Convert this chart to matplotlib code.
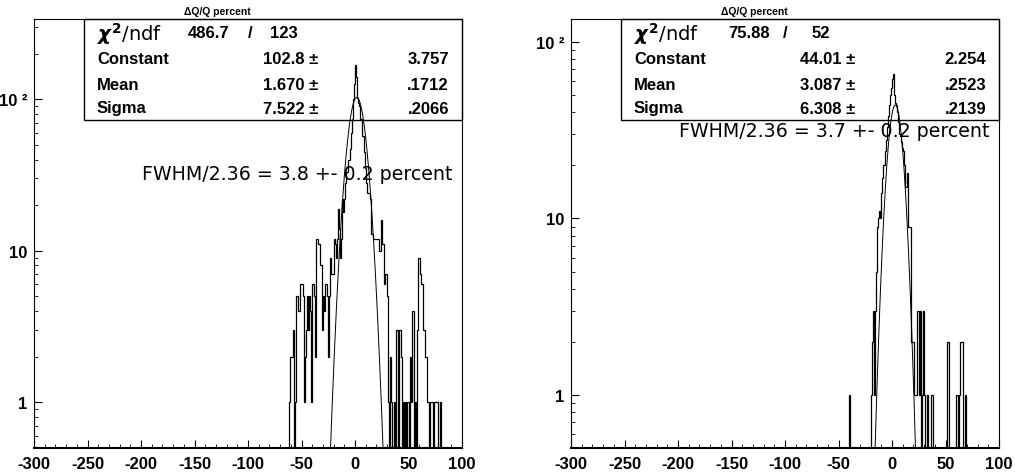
## Delta Q / Q histograms with gaussian fits (two panels)

import numpy as np
import matplotlib
matplotlib.use('Agg')
import matplotlib.pyplot as plt
from matplotlib.patches import Rectangle
from matplotlib.ticker import MultipleLocator, LogLocator, FixedLocator, FixedFormatter, NullFormatter

plt.rcParams['font.family'] = ['Liberation Sans', 'DejaVu Sans']
plt.rcParams['font.weight'] = 'bold'
plt.rcParams['axes.unicode_minus'] = False

## Data
# left panel: counts in 1-unit bins, first bin starts at -62
left_start = -62
left_counts = [1, 2, 2, 2, 3, 0, 1, 5, 5, 4,          # -62 .. -53
               4, 6, 6, 5, 1, 2, 3, 5, 3, 5,          # -52 .. -43
               4, 1, 6, 6, 5, 2, 12, 11, 11, 8,       # -42 .. -33
               8, 3, 5, 4, 6, 6, 5, 2, 5, 9,          # -32 .. -23
               7, 7, 12, 11, 9, 12, 19, 14, 9, 12,    # -22 .. -13
               22, 18, 22, 28, 33, 40, 40, 47, 60, 74,  # -12 .. -3
               100, 125, 167, 140, 102, 95, 90, 74, 74, 57,  # -2 .. 7
               45, 35, 28, 24, 24, 24, 22, 13, 13, 12,  # 8 .. 17
               12, 12, 12, 12, 10, 10, 16, 11, 11, 6,   # 18 .. 27
               7, 7, 5, 1, 0, 2, 1, 0, 1, 0,            # 28 .. 37
               3, 3, 0, 3, 3, 2, 0, 1, 0, 1,            # 38 .. 47
               0, 1, 0, 2, 1, 4, 4, 0, 1, 0,            # 48 .. 57
               3, 9, 9, 7, 6, 6, 3, 2, 2, 1,            # 58 .. 67
               1, 0, 1, 1, 1, 0, 1, 1, 1, 1,            # 68 .. 77
               0, 1]                                    # 78 .. 79
left_fit = {'chi2': '486.7', 'ndf': '123',
            'Constant': ('102.8', '3.757'), 'Mean': ('1.670', '.1712'), 'Sigma': ('7.522', '.2066')}
left_fwhm = 'FWHM/2.36 = 3.8 +- 0.2 percent'

# right panel: counts in 1-unit bins, first bin starts at -40
right_start = -40
right_counts = [1, 0, 0, 0, 0, 0, 0, 0, 0, 0,         # -40 .. -31
                0, 0, 0, 0, 0, 0, 0, 0, 0, 0,         # -30 .. -21
                1, 2, 3, 1, 3, 5, 9, 10, 11, 10,      # -20 .. -11
                14, 17, 20, 24, 28, 33, 38, 44, 50, 55,  # -10 .. -1
                62, 66, 50, 45, 44, 40, 35, 30, 27, 25,  # 0 .. 9
                24, 20, 15, 15, 18, 9, 9, 9, 2, 2,    # 10 .. 19
                2, 1, 1, 3, 3, 1, 3, 0, 1, 3,         # 20 .. 29
                1, 0, 0, 1, 0, 0, 1, 1, 0, 0,         # 30 .. 39
                0, 0, 0, 0, 0, 0, 0, 0, 0, 0,         # 40 .. 49
                0, 2, 2, 0, 0, 0, 0, 0, 0, 0,         # 50 .. 59
                1, 1, 0, 1, 2, 2, 0, 0, 1, 0]         # 60 .. 69
right_fit = {'chi2': '75.88', 'ndf': '52',
             'Constant': ('44.01', '2.254'), 'Mean': ('3.087', '.2523'), 'Sigma': ('6.308', '.2139')}
right_fwhm = 'FWHM/2.36 = 3.7 +- 0.2 percent'

title = '\u0394Q/Q percent'
x_ticks = [-300, -250, -200, -150, -100, -50, 0, 50, 100]
y_ticks = [1, 10, 100]
y_tick_labels = ['1', '10', '10 \u00b2']

## Plotting
fig = plt.figure(figsize=(10.15, 4.77), dpi=100)
W, H = 428.0, 429.0  # axes size in pixels


def draw_panel(left, start, counts, fit, fwhm, ymax, fwhm_y, chi_x):
    ax = fig.add_axes([left, 28 / 477, W / 1015, H / 477])
    counts = np.array(counts, dtype=float)
    edges = np.arange(start, start + len(counts) + 1)
    ax.stairs(np.where(counts > 0, counts, 1e-3), edges, color='black', lw=0.9, baseline=1e-3, zorder=4)

    # gaussian fit curve from the fitted parameters
    c, m, s = float(fit['Constant'][0]), float(fit['Mean'][0]), float(fit['Sigma'][0])
    xf = np.linspace(m - 4.5 * s, m + 4.5 * s, 400)
    ax.plot(xf, c * np.exp(-0.5 * ((xf - m) / s) ** 2), color='black', lw=0.7, zorder=4)

    ax.set_yscale('log')
    ax.set_xlim(-300, 100)
    ax.set_ylim(0.5, ymax)
    ax.xaxis.set_major_locator(FixedLocator(x_ticks))
    ax.xaxis.set_minor_locator(MultipleLocator(10))
    ax.yaxis.set_major_locator(FixedLocator(y_ticks))
    ax.yaxis.set_major_formatter(FixedFormatter(y_tick_labels))
    ax.yaxis.set_minor_locator(LogLocator(subs=np.arange(2, 10)))
    ax.yaxis.set_minor_formatter(NullFormatter())
    ax.tick_params(which='both', direction='in', top=False, right=False, labelsize=12)
    ax.tick_params(which='major', length=6)
    ax.tick_params(which='minor', length=3)
    ax.tick_params(axis='x', pad=6)
    ax.tick_params(axis='y', pad=5)
    for lab in ax.get_xticklabels() + ax.get_yticklabels():
        lab.set_fontweight('bold')
    ax.spines['bottom'].set_linewidth(1.5)
    for sp in ['left', 'top', 'right']:
        ax.spines[sp].set_linewidth(0.8)

    ax.text(183 / W, 1 + 8 / H, title, transform=ax.transAxes, ha='center', va='center', fontsize=7.5)

    # stats box (histogram is drawn over it)
    ax.add_patch(Rectangle((50 / W, 1 - 101 / H), 1 - 50 / W, 101 / H, transform=ax.transAxes,
                           facecolor='white', edgecolor='black', lw=1, zorder=2, clip_on=False))
    rows = [1 - 14 / H, 1 - 39 / H, 1 - 65 / H, 1 - 89 / H]
    ax.text(63 / W, rows[0], r'$\chi^2$/ndf', transform=ax.transAxes, ha='left', va='center',
            fontsize=14, fontweight='normal', family='DejaVu Sans', zorder=3)
    ax.text(chi_x[0] / W, rows[0], fit['chi2'], transform=ax.transAxes, ha='left', va='center', fontsize=12, zorder=3)
    ax.text(chi_x[1] / W, rows[0], '/', transform=ax.transAxes, ha='center', va='center', fontsize=12, zorder=3)
    ax.text(chi_x[2] / W, rows[0], fit['ndf'], transform=ax.transAxes, ha='left', va='center', fontsize=12, zorder=3)
    for y, name in zip(rows[1:], ['Constant', 'Mean', 'Sigma']):
        val, err = fit[name]
        ax.text(63 / W, y, name, transform=ax.transAxes, ha='left', va='center', fontsize=12, zorder=3)
        ax.text(284 / W, y, val + ' \u00b1', transform=ax.transAxes, ha='right', va='center', fontsize=12, zorder=3)
        ax.text(415 / W, y, err, transform=ax.transAxes, ha='right', va='center', fontsize=12, zorder=3)

    ax.text(0.253, fwhm_y, fwhm, transform=ax.transAxes, ha='left', va='center',
            fontsize=13.7, fontweight='normal', family='DejaVu Sans', zorder=3)
    return ax


draw_panel(34 / 1015, left_start, left_counts, left_fit, left_fwhm, 338, 0.641, (154, 216, 236))
draw_panel(571 / 1015, right_start, right_counts, right_fit, right_fwhm, 135, 0.741, (157, 214, 241))

fig.savefig('out.png', dpi=100)
